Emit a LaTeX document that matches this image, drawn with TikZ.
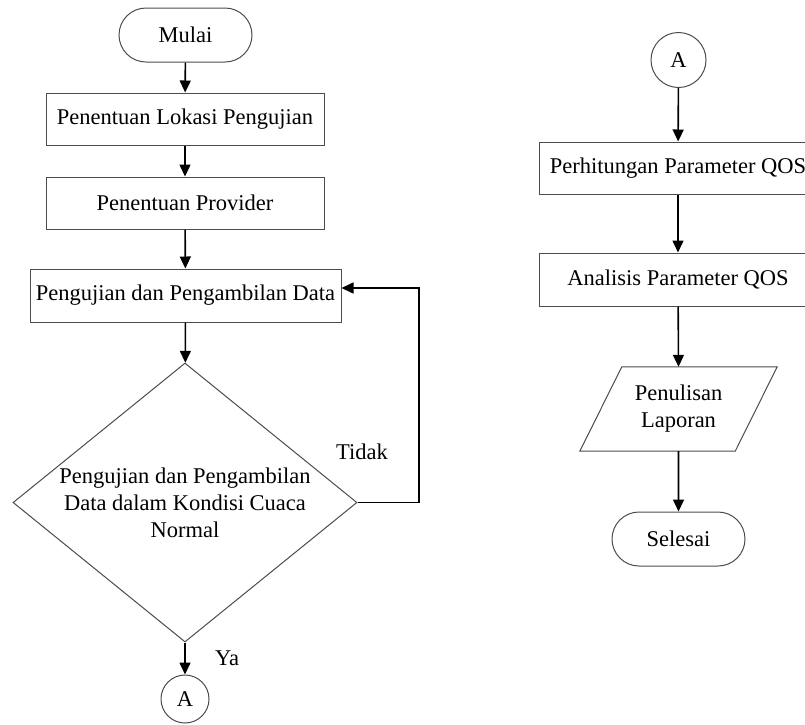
\documentclass[tikz,border=0pt]{standalone}
\usepackage{fontspec}
\setmainfont{Liberation Serif}
\usetikzlibrary{shapes.geometric,shapes.misc,arrows.meta,calc}
\begin{document}
\begin{tikzpicture}[x=1pt,y=-1pt,
  every node/.style={font=\fontsize{22.5}{27}\selectfont},
  shp/.style={draw=black!70, line width=1pt, fill=white, inner sep=0pt},
  procbox/.style={shp, rectangle, minimum width=278pt, minimum height=52pt},
  term/.style={shp, rounded rectangle, minimum width=133pt, minimum height=54pt},
  conn/.style={shp, circle},
  arr/.style={draw=black, line width=1.6pt, -{Triangle[length=12pt,width=11pt]}},
  lbl/.style={inner sep=0pt}]
\useasboundingbox (0,0) rectangle (805,724);
\clip (0,0) rectangle (805,724);
% left column
\node[term] (mulai) at (185.5,35) {Mulai};
\node[procbox] (b1) at (185,119) {Penentuan Lokasi Pengujian};
\node[procbox] (b2) at (185,203) {Penentuan Provider};
\node[procbox, minimum width=311pt, minimum height=53pt] (b3) at (185.5,295.5) {Pengujian dan Pengambilan Data};
\node[shp, diamond, minimum width=344pt, minimum height=279pt] (d) at (185,502.5) {};
\node[lbl, align=center] (dtext) at (185,503) {Pengujian dan Pengambilan\\Data dalam Kondisi Cuaca\\Normal};
\node[conn, minimum size=48pt] (aL) at (185,699) {A};
\node[lbl] (tidak) at (362,452) {Tidak};
\node[lbl] (ya) at (227,658) {Ya};
\coordinate (lc) at (419,288);
% right column
\node[conn, minimum size=55pt] (aR) at (678.5,60) {A};
\node[procbox] (p1) at (678,168) {Perhitungan Parameter QOS};
\node[procbox, minimum height=53pt] (p2) at (678,279.5) {Analisis Parameter QOS};
\node[rectangle, inner sep=0pt, minimum width=197pt, minimum height=84pt, align=center] (lap) at (678.5,409) {Penulisan\\Laporan};
\draw[draw=black!70, line width=1pt] (lap.south west) -- ($(lap.north west)+(42,0)$) -- (lap.north east) -- ($(lap.south east)-(42,0)$) -- cycle;
\node[term] (selesai) at (678.5,539) {Selesai};
% connectors
\draw[arr] (mulai) -- (b1);
\draw[arr] (b1) -- (b2);
\draw[arr] (b2) -- (b3);
\draw[arr] (b3) -- (d);
\draw[arr] (d.south) -- (aL);
\draw[arr] (d.east) -| (lc) -- (b3.east |- lc);
\draw[arr] (aR) -- (p1);
\draw[arr] (p1) -- (p2);
\draw[arr] (p2) -- (lap.north);
\draw[arr] (lap.south) -- (selesai);
\end{tikzpicture}
\end{document}
